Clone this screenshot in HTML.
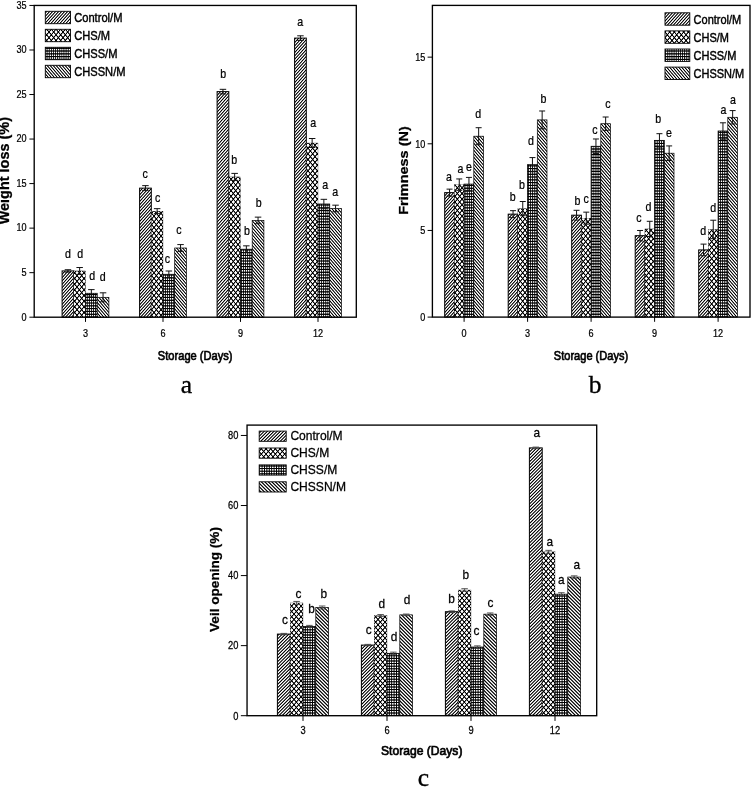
<!DOCTYPE html>
<html><head><meta charset="utf-8"><title>Figure</title>
<style>
html,body{margin:0;padding:0;background:#fff;}
body{width:751px;height:787px;overflow:hidden;font-family:"Liberation Sans",sans-serif;}
svg{display:block;will-change:transform;font-family:"Liberation Sans",sans-serif;text-anchor:middle;}
text{fill:#000;stroke:#000;stroke-width:0.25px;}
</style></head><body>
<svg width="751" height="787" viewBox="0 0 751 787">
<defs>
<pattern id="ctlab" width="3" height="10" patternUnits="userSpaceOnUse"><rect width="3" height="10" fill="#fff"/><path fill="#ccc" d="M0 0h1v1h-1zM2 9h1v1h-1z"/><path fill="#ddd" d="M1 0h1v1h-1zM1 9h1v1h-1z"/><path fill="#000" d="M2 0h1v1h-1zM0 9h1v1h-1z"/><path fill="#111" d="M1 1h1v1h-1zM0 2h1v1h-1zM2 7h1v1h-1zM1 8h1v1h-1z"/><path fill="#aaa" d="M2 1h1v1h-1zM0 8h1v1h-1z"/><path fill="#888" d="M1 2h1v1h-1zM1 7h1v1h-1z"/><path fill="#777" d="M0 3h1v1h-1zM2 6h1v1h-1z"/><path fill="#222" d="M2 3h1v1h-1zM0 6h1v1h-1z"/><path fill="#444" d="M1 4h1v1h-1zM1 5h1v1h-1z"/><path fill="#555" d="M2 4h1v1h-1zM0 5h1v1h-1z"/></pattern>
<pattern id="snab" width="3" height="7" patternUnits="userSpaceOnUse"><rect width="3" height="7" fill="#fff"/><path fill="#000" d="M0 0h1v1h-1zM2 6h1v1h-1z"/><path fill="#eee" d="M1 0h1v1h-1zM1 6h1v1h-1z"/><path fill="#ccc" d="M2 0h1v1h-1zM0 6h1v1h-1z"/><path fill="#999" d="M0 1h1v1h-1zM2 5h1v1h-1z"/><path fill="#111" d="M1 1h1v1h-1zM1 5h1v1h-1z"/><path fill="#777" d="M1 2h1v1h-1zM1 4h1v1h-1z"/><path fill="#333" d="M2 2h1v1h-1zM0 4h1v1h-1z"/><path fill="#444" d="M0 3h1v1h-1zM2 3h1v1h-1z"/></pattern>
<pattern id="chsab" width="14" height="17" patternUnits="userSpaceOnUse"><rect width="14" height="17" fill="#000"/><path fill="#111" d="M0 0h1v1h-1zM13 0h1v1h-1zM5 1h1v1h-1zM8 1h1v1h-1zM6 3h2v1h-2zM3 5h1v1h-1zM10 5h1v1h-1zM3 7h1v1h-1zM10 7h1v1h-1zM6 9h2v1h-2zM5 11h1v1h-1zM8 11h1v1h-1z"/><path fill="#fff" d="M1 0h2v1h-2zM6 0h2v1h-2zM11 0h2v1h-2zM2 1h1v1h-1zM6 1h2v1h-2zM11 1h1v1h-1zM4 2h1v1h-1zM9 2h1v1h-1zM0 3h1v1h-1zM4 3h2v1h-2zM8 3h2v1h-2zM13 3h1v1h-1zM0 4h1v1h-1zM4 4h1v1h-1zM9 4h1v1h-1zM13 4h1v1h-1zM2 5h1v1h-1zM11 5h1v1h-1zM1 6h2v1h-2zM6 6h2v1h-2zM11 6h2v1h-2zM2 7h1v1h-1zM11 7h1v1h-1zM0 8h1v1h-1zM4 8h1v1h-1zM9 8h1v1h-1zM13 8h1v1h-1zM0 9h1v1h-1zM4 9h2v1h-2zM8 9h2v1h-2zM13 9h1v1h-1zM4 10h1v1h-1zM9 10h1v1h-1zM2 11h1v1h-1zM6 11h2v1h-2zM11 11h1v1h-1zM1 12h2v1h-2zM6 12h2v1h-2zM11 12h2v1h-2zM2 13h1v1h-1zM11 13h1v1h-1zM0 14h1v1h-1zM4 14h1v1h-1zM9 14h1v1h-1zM13 14h1v1h-1zM0 15h1v1h-1zM4 15h1v1h-1zM9 15h1v1h-1zM13 15h1v1h-1zM2 16h1v1h-1zM11 16h1v1h-1z"/><path fill="#ccc" d="M3 0h1v1h-1zM10 0h1v1h-1zM1 1h1v1h-1zM12 1h1v1h-1zM0 2h1v1h-1zM13 2h1v1h-1zM3 12h1v1h-1zM10 12h1v1h-1zM4 13h1v1h-1zM9 13h1v1h-1zM4 16h1v1h-1zM9 16h1v1h-1z"/><path fill="#666" d="M5 0h1v1h-1zM8 0h1v1h-1zM3 1h1v1h-1zM10 1h1v1h-1zM4 7h1v1h-1zM9 7h1v1h-1zM5 12h1v1h-1zM8 12h1v1h-1zM0 16h1v1h-1zM13 16h1v1h-1z"/><path fill="#888" d="M2 2h1v1h-1zM11 2h1v1h-1z"/><path fill="#555" d="M5 2h1v1h-1zM8 2h1v1h-1zM4 5h1v1h-1zM9 5h1v1h-1z"/><path fill="#333" d="M6 2h2v1h-2zM2 4h2v1h-2zM10 4h2v1h-2zM2 8h1v1h-1zM11 8h1v1h-1zM1 14h1v1h-1zM12 14h1v1h-1zM1 15h1v1h-1zM12 15h1v1h-1z"/><path fill="#777" d="M1 3h1v1h-1zM12 3h1v1h-1zM1 5h1v1h-1zM12 5h1v1h-1zM5 6h1v1h-1zM8 6h1v1h-1zM1 7h1v1h-1zM12 7h1v1h-1zM1 9h1v1h-1zM12 9h1v1h-1zM3 11h1v1h-1zM10 11h1v1h-1zM0 13h1v1h-1zM13 13h1v1h-1z"/><path fill="#ddd" d="M3 3h1v1h-1zM10 3h1v1h-1zM6 7h2v1h-2zM3 9h1v1h-1zM10 9h1v1h-1zM1 11h1v1h-1zM12 11h1v1h-1z"/><path fill="#aaa" d="M5 4h1v1h-1zM8 4h1v1h-1zM5 8h1v1h-1zM8 8h1v1h-1zM3 14h1v1h-1zM10 14h1v1h-1z"/><path fill="#222" d="M0 5h1v1h-1zM13 5h1v1h-1zM0 7h1v1h-1zM13 7h1v1h-1zM1 13h1v1h-1zM12 13h1v1h-1zM1 16h1v1h-1zM12 16h1v1h-1z"/><path fill="#eee" d="M6 5h2v1h-2zM3 6h1v1h-1zM10 6h1v1h-1zM5 14h1v1h-1zM8 14h1v1h-1zM5 15h1v1h-1zM8 15h1v1h-1z"/><path fill="#444" d="M3 8h1v1h-1zM10 8h1v1h-1zM5 10h4v1h-4z"/><path fill="#bbb" d="M0 10h1v1h-1zM13 10h1v1h-1z"/><path fill="#999" d="M2 10h1v1h-1zM11 10h1v1h-1zM6 13h2v1h-2zM3 15h1v1h-1zM10 15h1v1h-1zM6 16h2v1h-2z"/></pattern>
<pattern id="chssab" width="19" height="14" patternUnits="userSpaceOnUse"><rect width="19" height="14" fill="#222"/><path fill="#000" d="M0 0h19v1h-19zM0 3h19v1h-19zM0 6h1v1h-1zM2 6h1v1h-1zM4 6h1v1h-1zM6 6h1v1h-1zM9 6h1v1h-1zM11 6h1v1h-1zM13 6h1v1h-1zM15 6h1v1h-1zM17 6h1v1h-1zM0 11h1v1h-1zM13 11h1v1h-1zM15 11h1v1h-1zM17 11h1v1h-1z"/><path fill="#bbb" d="M1 1h1v1h-1zM12 1h1v1h-1zM1 2h1v1h-1zM12 2h1v1h-1z"/><path fill="#444" d="M2 1h1v1h-1zM11 1h1v1h-1zM2 2h1v1h-1zM11 2h1v1h-1zM4 5h1v1h-1zM3 8h1v1h-1zM5 8h1v1h-1zM10 8h1v1h-1zM3 9h1v1h-1zM5 9h1v1h-1zM10 9h1v1h-1zM6 12h1v1h-1zM9 12h1v1h-1z"/><path fill="#999" d="M3 1h1v1h-1zM5 1h1v1h-1zM10 1h1v1h-1zM3 2h1v1h-1zM5 2h1v1h-1zM10 2h1v1h-1zM1 5h1v1h-1zM12 5h1v1h-1z"/><path fill="#666" d="M4 1h1v1h-1zM6 1h1v1h-1zM9 1h1v1h-1zM4 2h1v1h-1zM6 2h1v1h-1zM9 2h1v1h-1zM7 5h2v1h-2zM14 8h1v1h-1zM16 8h1v1h-1zM18 8h1v1h-1zM14 9h1v1h-1zM16 9h1v1h-1zM18 9h1v1h-1zM3 12h1v1h-1zM5 12h1v1h-1zM10 12h1v1h-1z"/><path fill="#777" d="M7 1h2v1h-2zM7 2h2v1h-2zM3 5h1v1h-1zM5 5h1v1h-1zM10 5h1v1h-1zM1 12h1v1h-1zM12 12h1v1h-1z"/><path fill="#ddd" d="M14 1h1v1h-1zM16 1h1v1h-1zM18 1h1v1h-1zM14 2h1v1h-1zM16 2h1v1h-1zM18 2h1v1h-1zM3 7h1v1h-1zM10 7h1v1h-1zM3 13h1v1h-1zM10 13h1v1h-1z"/><path fill="#333" d="M0 4h1v1h-1zM13 4h1v1h-1zM15 4h1v1h-1zM17 4h1v1h-1zM2 5h1v1h-1zM11 5h1v1h-1zM0 7h1v1h-1zM13 7h1v1h-1zM15 7h1v1h-1zM17 7h1v1h-1zM7 8h2v1h-2zM7 9h2v1h-2zM0 10h1v1h-1zM13 10h1v1h-1zM15 10h1v1h-1zM17 10h1v1h-1zM1 11h1v1h-1zM12 11h1v1h-1zM14 11h1v1h-1zM16 11h1v1h-1zM18 11h1v1h-1zM4 12h1v1h-1zM0 13h1v1h-1zM13 13h1v1h-1zM15 13h1v1h-1zM17 13h1v1h-1z"/><path fill="#fff" d="M1 4h1v1h-1zM12 4h1v1h-1zM14 4h1v1h-1zM16 4h1v1h-1zM18 4h1v1h-1zM1 7h1v1h-1zM12 7h1v1h-1zM14 7h1v1h-1zM16 7h1v1h-1zM18 7h1v1h-1zM1 10h1v1h-1zM12 10h1v1h-1zM14 10h1v1h-1zM16 10h1v1h-1zM18 10h1v1h-1zM1 13h1v1h-1zM12 13h1v1h-1zM14 13h1v1h-1zM16 13h1v1h-1zM18 13h1v1h-1z"/><path fill="#555" d="M2 4h1v1h-1zM11 4h1v1h-1zM6 5h1v1h-1zM9 5h1v1h-1zM2 7h1v1h-1zM11 7h1v1h-1zM1 8h1v1h-1zM12 8h1v1h-1zM1 9h1v1h-1zM12 9h1v1h-1zM2 10h1v1h-1zM11 10h1v1h-1zM7 12h2v1h-2zM2 13h1v1h-1zM11 13h1v1h-1z"/><path fill="#ccc" d="M3 4h1v1h-1zM5 4h1v1h-1zM10 4h1v1h-1zM5 7h1v1h-1zM3 10h1v1h-1zM5 10h1v1h-1zM10 10h1v1h-1zM5 13h1v1h-1z"/><path fill="#888" d="M4 4h1v1h-1zM6 4h1v1h-1zM9 4h1v1h-1zM4 7h1v1h-1zM6 7h1v1h-1zM9 7h1v1h-1zM4 10h1v1h-1zM6 10h1v1h-1zM9 10h1v1h-1zM14 12h1v1h-1zM16 12h1v1h-1zM18 12h1v1h-1zM4 13h1v1h-1zM6 13h1v1h-1zM9 13h1v1h-1z"/><path fill="#aaa" d="M7 4h2v1h-2zM14 5h1v1h-1zM16 5h1v1h-1zM18 5h1v1h-1zM7 7h2v1h-2zM7 10h2v1h-2zM7 13h2v1h-2z"/><path fill="#111" d="M1 6h1v1h-1zM3 6h1v1h-1zM5 6h1v1h-1zM7 6h2v1h-2zM10 6h1v1h-1zM12 6h1v1h-1zM14 6h1v1h-1zM16 6h1v1h-1zM18 6h1v1h-1zM0 8h1v1h-1zM13 8h1v1h-1zM15 8h1v1h-1zM17 8h1v1h-1zM0 9h1v1h-1zM13 9h1v1h-1zM15 9h1v1h-1zM17 9h1v1h-1zM2 11h1v1h-1zM4 11h1v1h-1zM6 11h1v1h-1zM9 11h1v1h-1zM11 11h1v1h-1zM0 12h1v1h-1zM13 12h1v1h-1zM15 12h1v1h-1zM17 12h1v1h-1z"/></pattern>
<pattern id="ctlc" width="13" height="13" patternUnits="userSpaceOnUse"><rect width="13" height="13" fill="#fff"/><path fill="#bbb" d="M0 0h1v1h-1zM11 0h1v1h-1zM10 1h1v1h-1zM12 1h1v1h-1zM9 2h1v1h-1zM11 2h1v1h-1zM8 3h1v1h-1zM10 3h1v1h-1zM7 4h1v1h-1zM9 4h1v1h-1zM6 5h1v1h-1zM8 5h1v1h-1zM5 6h1v1h-1zM7 6h1v1h-1zM4 7h1v1h-1zM6 7h1v1h-1zM3 8h1v1h-1zM5 8h1v1h-1zM2 9h1v1h-1zM4 9h1v1h-1zM1 10h1v1h-1zM3 10h1v1h-1zM0 11h1v1h-1zM2 11h1v1h-1zM1 12h1v1h-1zM12 12h1v1h-1z"/><path fill="#111" d="M2 0h1v1h-1zM9 0h1v1h-1zM1 1h1v1h-1zM8 1h1v1h-1zM0 2h1v1h-1zM7 2h1v1h-1zM6 3h1v1h-1zM12 3h1v1h-1zM5 4h1v1h-1zM11 4h1v1h-1zM4 5h1v1h-1zM10 5h1v1h-1zM3 6h1v1h-1zM9 6h1v1h-1zM2 7h1v1h-1zM8 7h1v1h-1zM1 8h1v1h-1zM7 8h1v1h-1zM0 9h1v1h-1zM6 9h1v1h-1zM5 10h1v1h-1zM12 10h1v1h-1zM4 11h1v1h-1zM11 11h1v1h-1zM3 12h1v1h-1zM10 12h1v1h-1z"/><path fill="#777" d="M3 0h1v1h-1zM8 0h1v1h-1zM2 1h1v1h-1zM7 1h1v1h-1zM1 2h1v1h-1zM6 2h1v1h-1zM0 3h1v1h-1zM5 3h1v1h-1zM4 4h1v1h-1zM12 4h1v1h-1zM3 5h1v1h-1zM11 5h1v1h-1zM2 6h1v1h-1zM10 6h1v1h-1zM1 7h1v1h-1zM9 7h1v1h-1zM0 8h1v1h-1zM8 8h1v1h-1zM7 9h1v1h-1zM12 9h1v1h-1zM6 10h1v1h-1zM11 10h1v1h-1zM5 11h1v1h-1zM10 11h1v1h-1zM4 12h1v1h-1zM9 12h1v1h-1z"/><path fill="#444" d="M5 0h2v1h-2zM4 1h2v1h-2zM3 2h2v1h-2zM2 3h2v1h-2zM1 4h2v1h-2zM0 5h2v1h-2zM0 6h1v1h-1zM12 6h1v1h-1zM11 7h2v1h-2zM10 8h2v1h-2zM9 9h2v1h-2zM8 10h2v1h-2zM7 11h2v1h-2zM6 12h2v1h-2z"/><path fill="#000" d="M12 0h1v1h-1zM11 1h1v1h-1zM10 2h1v1h-1zM9 3h1v1h-1zM8 4h1v1h-1zM7 5h1v1h-1zM6 6h1v1h-1zM5 7h1v1h-1zM4 8h1v1h-1zM3 9h1v1h-1zM2 10h1v1h-1zM1 11h1v1h-1zM0 12h1v1h-1z"/></pattern>
<pattern id="snc" width="7" height="7" patternUnits="userSpaceOnUse"><rect width="7" height="7" fill="#aaa"/><path fill="#000" d="M0 0h1v1h-1zM1 1h1v1h-1zM2 2h1v1h-1zM3 3h1v1h-1zM4 4h1v1h-1zM5 5h1v1h-1zM6 6h1v1h-1z"/><path fill="#fff" d="M2 0h1v1h-1zM5 0h1v1h-1zM3 1h1v1h-1zM6 1h1v1h-1zM0 2h1v1h-1zM4 2h1v1h-1zM1 3h1v1h-1zM5 3h1v1h-1zM2 4h1v1h-1zM6 4h1v1h-1zM0 5h1v1h-1zM3 5h1v1h-1zM1 6h1v1h-1zM4 6h1v1h-1z"/><path fill="#333" d="M3 0h2v1h-2zM4 1h2v1h-2zM5 2h2v1h-2zM0 3h1v1h-1zM6 3h1v1h-1zM0 4h2v1h-2zM1 5h2v1h-2zM2 6h2v1h-2z"/></pattern>
<pattern id="chsc" width="14" height="16" patternUnits="userSpaceOnUse"><rect width="14" height="16" fill="#000"/><path fill="#fff" d="M1 0h2v1h-2zM6 0h2v1h-2zM11 0h2v1h-2zM2 1h1v1h-1zM6 1h2v1h-2zM11 1h1v1h-1zM4 2h1v1h-1zM9 2h1v1h-1zM0 3h1v1h-1zM4 3h2v1h-2zM8 3h2v1h-2zM13 3h1v1h-1zM4 4h1v1h-1zM9 4h1v1h-1zM2 5h1v1h-1zM6 5h2v1h-2zM11 5h1v1h-1zM1 6h2v1h-2zM6 6h2v1h-2zM11 6h2v1h-2zM0 8h1v1h-1zM4 8h2v1h-2zM8 8h2v1h-2zM13 8h1v1h-1zM0 9h1v1h-1zM4 9h1v1h-1zM9 9h1v1h-1zM13 9h1v1h-1zM2 10h1v1h-1zM11 10h1v1h-1zM1 11h2v1h-2zM6 11h2v1h-2zM11 11h2v1h-2zM2 12h1v1h-1zM11 12h1v1h-1zM0 13h1v1h-1zM4 13h1v1h-1zM9 13h1v1h-1zM13 13h1v1h-1zM0 14h1v1h-1zM4 14h2v1h-2zM8 14h2v1h-2zM13 14h1v1h-1z"/><path fill="#ddd" d="M3 0h1v1h-1zM10 0h1v1h-1zM0 2h1v1h-1zM13 2h1v1h-1zM3 3h1v1h-1zM10 3h1v1h-1zM1 5h1v1h-1zM12 5h1v1h-1zM3 8h1v1h-1zM10 8h1v1h-1zM6 10h2v1h-2zM3 11h1v1h-1zM10 11h1v1h-1zM5 13h1v1h-1zM8 13h1v1h-1z"/><path fill="#666" d="M5 0h1v1h-1zM8 0h1v1h-1zM1 8h1v1h-1zM12 8h1v1h-1z"/><path fill="#bbb" d="M1 1h1v1h-1zM12 1h1v1h-1zM3 6h1v1h-1zM10 6h1v1h-1zM5 9h1v1h-1zM8 9h1v1h-1zM3 14h1v1h-1zM10 14h1v1h-1z"/><path fill="#555" d="M3 1h1v1h-1zM10 1h1v1h-1zM2 2h1v1h-1zM11 2h1v1h-1zM5 4h1v1h-1zM8 4h1v1h-1zM5 6h1v1h-1zM8 6h1v1h-1zM3 9h1v1h-1zM10 9h1v1h-1zM4 10h1v1h-1zM9 10h1v1h-1zM1 12h1v1h-1zM12 12h1v1h-1zM1 14h1v1h-1zM12 14h1v1h-1z"/><path fill="#222" d="M4 1h1v1h-1zM9 1h1v1h-1zM6 2h2v1h-2zM5 7h1v1h-1zM8 7h1v1h-1zM2 9h1v1h-1zM11 9h1v1h-1zM0 10h1v1h-1zM13 10h1v1h-1zM1 15h1v1h-1zM12 15h1v1h-1z"/><path fill="#111" d="M3 2h1v1h-1zM10 2h1v1h-1zM6 3h2v1h-2zM5 5h1v1h-1zM8 5h1v1h-1zM3 10h1v1h-1zM10 10h1v1h-1zM0 11h1v1h-1zM13 11h1v1h-1zM1 13h1v1h-1zM12 13h1v1h-1z"/><path fill="#777" d="M5 2h1v1h-1zM8 2h1v1h-1zM1 3h1v1h-1zM12 3h1v1h-1zM3 5h1v1h-1zM10 5h1v1h-1zM6 7h2v1h-2zM1 10h1v1h-1zM12 10h1v1h-1zM5 11h1v1h-1zM8 11h1v1h-1zM3 13h1v1h-1zM10 13h1v1h-1zM0 15h1v1h-1zM13 15h1v1h-1z"/><path fill="#ccc" d="M0 4h1v1h-1zM13 4h1v1h-1zM2 7h1v1h-1zM11 7h1v1h-1zM6 12h2v1h-2zM4 15h1v1h-1zM9 15h1v1h-1z"/><path fill="#888" d="M2 4h1v1h-1zM11 4h1v1h-1zM4 12h1v1h-1zM9 12h1v1h-1z"/><path fill="#333" d="M6 4h2v1h-2zM0 12h1v1h-1zM13 12h1v1h-1z"/><path fill="#999" d="M0 7h1v1h-1zM13 7h1v1h-1zM6 15h2v1h-2z"/><path fill="#eee" d="M4 7h1v1h-1zM9 7h1v1h-1zM2 15h1v1h-1zM11 15h1v1h-1z"/></pattern>
<pattern id="chssc" width="12" height="13" patternUnits="userSpaceOnUse"><rect width="12" height="13" fill="#333"/><path fill="#000" d="M0 0h12v1h-12zM0 1h1v1h-1zM0 2h1v1h-1zM0 3h1v1h-1zM5 3h1v1h-1zM7 3h1v1h-1zM0 4h1v1h-1zM0 5h1v1h-1zM5 5h1v1h-1zM7 5h1v1h-1zM0 6h1v1h-1zM0 7h1v1h-1zM0 8h12v1h-12zM0 9h1v1h-1zM0 10h1v1h-1zM0 11h1v1h-1zM0 12h1v1h-1z"/><path fill="#fff" d="M1 1h1v1h-1zM6 1h1v1h-1zM11 1h1v1h-1zM1 4h1v1h-1zM6 4h1v1h-1zM8 4h1v1h-1zM11 4h1v1h-1zM1 9h1v1h-1zM6 9h1v1h-1zM8 9h1v1h-1zM11 9h1v1h-1zM1 12h1v1h-1zM6 12h1v1h-1zM8 12h1v1h-1zM11 12h1v1h-1z"/><path fill="#555" d="M2 1h1v1h-1zM2 4h1v1h-1zM2 9h1v1h-1zM8 10h1v1h-1zM8 11h1v1h-1zM2 12h1v1h-1z"/><path fill="#999" d="M3 1h1v1h-1zM9 1h1v1h-1zM8 2h1v1h-1zM8 6h1v1h-1zM4 7h1v1h-1z"/><path fill="#bbb" d="M4 1h1v1h-1zM8 7h1v1h-1z"/><path fill="#ddd" d="M8 1h1v1h-1zM4 4h1v1h-1zM1 7h1v1h-1zM6 7h1v1h-1zM11 7h1v1h-1zM4 9h1v1h-1zM4 12h1v1h-1z"/><path fill="#777" d="M10 1h1v1h-1zM4 2h1v1h-1zM4 6h1v1h-1zM9 7h1v1h-1z"/><path fill="#aaa" d="M1 2h1v1h-1zM6 2h1v1h-1zM11 2h1v1h-1zM3 4h1v1h-1zM9 4h1v1h-1zM1 6h1v1h-1zM6 6h1v1h-1zM11 6h1v1h-1zM3 9h1v1h-1zM9 9h1v1h-1zM3 12h1v1h-1zM9 12h1v1h-1z"/><path fill="#666" d="M3 2h1v1h-1zM9 2h1v1h-1zM3 6h1v1h-1zM9 6h1v1h-1zM10 7h1v1h-1zM1 10h1v1h-1zM6 10h1v1h-1zM11 10h1v1h-1zM1 11h1v1h-1zM6 11h1v1h-1zM11 11h1v1h-1z"/><path fill="#222" d="M5 2h1v1h-1zM7 2h1v1h-1zM3 3h2v1h-2zM9 3h1v1h-1zM3 5h2v1h-2zM9 5h1v1h-1zM5 6h1v1h-1zM7 6h1v1h-1zM5 7h1v1h-1zM7 7h1v1h-1zM2 10h1v1h-1zM10 10h1v1h-1zM2 11h1v1h-1zM10 11h1v1h-1z"/><path fill="#444" d="M10 2h1v1h-1zM10 6h1v1h-1zM2 7h1v1h-1zM4 10h1v1h-1zM4 11h1v1h-1z"/><path fill="#111" d="M2 3h1v1h-1zM10 3h1v1h-1zM2 5h1v1h-1zM10 5h1v1h-1zM5 10h1v1h-1zM7 10h1v1h-1zM5 11h1v1h-1zM7 11h1v1h-1z"/><path fill="#888" d="M10 4h1v1h-1zM3 7h1v1h-1zM10 9h1v1h-1zM10 12h1v1h-1z"/></pattern>
</defs>
<rect width="751" height="787" fill="#fff"/>
<g stroke="#000"><rect x="62.1" y="270.92" width="11.7" height="46.38" fill="url(#ctlab)" stroke-width="1.0"/><rect x="73.8" y="270.92" width="11.7" height="46.38" fill="url(#chsab)" stroke-width="0.25"/><rect x="85.5" y="293.31" width="11.7" height="23.99" fill="url(#chssab)" stroke-width="0.8"/><rect x="97.2" y="297.32" width="11.7" height="19.98" fill="url(#snab)" stroke-width="0.7"/><rect x="139.6" y="188.14" width="11.7" height="129.16" fill="url(#ctlab)" stroke-width="1.0"/><rect x="151.3" y="211.15" width="11.7" height="106.15" fill="url(#chsab)" stroke-width="0.25"/><rect x="163" y="274.31" width="11.7" height="42.99" fill="url(#chssab)" stroke-width="0.8"/><rect x="174.7" y="247.99" width="11.7" height="69.31" fill="url(#snab)" stroke-width="0.7"/><rect x="217.1" y="91.62" width="11.7" height="225.68" fill="url(#ctlab)" stroke-width="1.0"/><rect x="228.8" y="176.9" width="11.7" height="140.4" fill="url(#chsab)" stroke-width="0.25"/><rect x="240.5" y="249.24" width="11.7" height="68.06" fill="url(#chssab)" stroke-width="0.8"/><rect x="252.2" y="220.43" width="11.7" height="96.87" fill="url(#snab)" stroke-width="0.7"/><rect x="294.6" y="38.1" width="11.7" height="279.2" fill="url(#ctlab)" stroke-width="1.0"/><rect x="306.3" y="143" width="11.7" height="174.3" fill="url(#chsab)" stroke-width="0.25"/><rect x="318" y="204.02" width="11.7" height="113.28" fill="url(#chssab)" stroke-width="0.8"/><rect x="329.7" y="208.48" width="11.7" height="108.82" fill="url(#snab)" stroke-width="0.7"/></g>
<path d="M67.95 269.72V272.12M64.7 269.72H71.2M64.7 272.12H71.2M79.65 267.52V274.32M76.4 267.52H82.9M76.4 274.32H82.9M91.35 289.61V297.01M88.1 289.61H94.6M88.1 297.01H94.6M103.05 292.82V301.82M99.8 292.82H106.3M99.8 301.82H106.3M145.45 185.64V190.64M142.2 185.64H148.7M142.2 190.64H148.7M157.15 208.65V213.65M153.9 208.65H160.4M153.9 213.65H160.4M168.85 271.01V277.61M165.6 271.01H172.1M165.6 277.61H172.1M180.55 244.59V251.39M177.3 244.59H183.8M177.3 251.39H183.8M222.95 89.32V93.92M219.7 89.32H226.2M219.7 93.92H226.2M234.65 173.4V180.4M231.4 173.4H237.9M231.4 180.4H237.9M246.35 245.84V252.64M243.1 245.84H249.6M243.1 252.64H249.6M258.05 217.13V223.73M254.8 217.13H261.3M254.8 223.73H261.3M300.45 35.8V40.4M297.2 35.8H303.7M297.2 40.4H303.7M312.15 138.5V147.5M308.9 138.5H315.4M308.9 147.5H315.4M323.85 199.32V208.72M320.6 199.32H327.1M320.6 208.72H327.1M335.55 205.18V211.78M332.3 205.18H338.8M332.3 211.78H338.8" stroke="#111" stroke-width="1.0" fill="none"/>
<text transform="translate(68,258.3) scale(0.85,1)" font-size="12.5" >d</text>
<text transform="translate(80.3,258.3) scale(0.85,1)" font-size="12.5" >d</text>
<text transform="translate(92.3,279.7) scale(0.85,1)" font-size="12.5" >d</text>
<text transform="translate(102.6,280.9) scale(0.85,1)" font-size="12.5" >d</text>
<text transform="translate(145.1,177.7) scale(0.85,1)" font-size="12.5" >c</text>
<text transform="translate(157.7,202.2) scale(0.85,1)" font-size="12.5" >c</text>
<text transform="translate(167.5,262.7) scale(0.85,1)" font-size="12.5" >c</text>
<text transform="translate(179,233.7) scale(0.85,1)" font-size="12.5" >c</text>
<text transform="translate(223.1,77.9) scale(0.85,1)" font-size="12.5" >b</text>
<text transform="translate(234.3,163.5) scale(0.85,1)" font-size="12.5" >b</text>
<text transform="translate(246.9,234.6) scale(0.85,1)" font-size="12.5" >b</text>
<text transform="translate(258.7,207.4) scale(0.85,1)" font-size="12.5" >b</text>
<text transform="translate(300.3,25.7) scale(0.85,1)" font-size="12.5" >a</text>
<text transform="translate(313.2,126.7) scale(0.85,1)" font-size="12.5" >a</text>
<text transform="translate(325.3,189.4) scale(0.85,1)" font-size="12.5" >a</text>
<text transform="translate(335.3,196) scale(0.85,1)" font-size="12.5" >a</text>
<rect x="45.3" y="11.3" width="25.2" height="12.4" fill="url(#ctlab)" stroke="#000" stroke-width="0.9"/>
<text transform="translate(74.2,21.9) scale(0.825,1)" font-size="13.5" text-anchor="start" style="stroke-width:0.45px">Control/M</text>
<rect x="45.3" y="29.3" width="25.2" height="12.4" fill="url(#chsab)" stroke="#000" stroke-width="0.9"/>
<text transform="translate(74.2,39.9) scale(0.825,1)" font-size="13.5" text-anchor="start" style="stroke-width:0.45px">CHS/M</text>
<rect x="45.3" y="47.3" width="25.2" height="12.4" fill="url(#chssab)" stroke="#000" stroke-width="0.9"/>
<text transform="translate(74.2,57.9) scale(0.825,1)" font-size="13.5" text-anchor="start" style="stroke-width:0.45px">CHSS/M</text>
<rect x="45.3" y="65.3" width="25.2" height="12.4" fill="url(#snab)" stroke="#000" stroke-width="0.9"/>
<text transform="translate(74.2,75.9) scale(0.825,1)" font-size="13.5" text-anchor="start" style="stroke-width:0.45px">CHSSN/M</text>
<rect x="34.2" y="5.45" width="322.1" height="311.75" fill="none" stroke="#000" stroke-width="1.35"/>
<text transform="translate(26.5,320.5) scale(0.85,1)" font-size="10.7" text-anchor="end" >0</text>
<text transform="translate(26.5,275.96) scale(0.85,1)" font-size="10.7" text-anchor="end" >5</text>
<text transform="translate(26.5,231.43) scale(0.85,1)" font-size="10.7" text-anchor="end" >10</text>
<text transform="translate(26.5,186.9) scale(0.85,1)" font-size="10.7" text-anchor="end" >15</text>
<text transform="translate(26.5,142.36) scale(0.85,1)" font-size="10.7" text-anchor="end" >20</text>
<text transform="translate(26.5,97.82) scale(0.85,1)" font-size="10.7" text-anchor="end" >25</text>
<text transform="translate(26.5,53.29) scale(0.85,1)" font-size="10.7" text-anchor="end" >30</text>
<text transform="translate(26.5,8.75) scale(0.85,1)" font-size="10.7" text-anchor="end" >35</text>
<text transform="translate(85.5,336.8) scale(0.85,1)" font-size="10.7" >3</text>
<text transform="translate(163,336.8) scale(0.85,1)" font-size="10.7" >6</text>
<text transform="translate(240.5,336.8) scale(0.85,1)" font-size="10.7" >9</text>
<text transform="translate(318,336.8) scale(0.85,1)" font-size="10.7" >12</text>
<path d="M29.4 317.2H34.2M29.4 272.66H34.2M29.4 228.13H34.2M29.4 183.59H34.2M29.4 139.06H34.2M29.4 94.52H34.2M29.4 49.99H34.2M29.4 5.45H34.2M85.5 317.2V321.9M163 317.2V321.9M240.5 317.2V321.9M318 317.2V321.9" stroke="#000" stroke-width="1" fill="none"/>
<text transform="translate(195.2,360) scale(0.824,1)" font-size="13.5" style="stroke-width:0.7px">Storage (Days)</text>
<text transform="translate(8.8,170.7) rotate(-90) scale(1.055,1.13)" font-size="13.7" font-weight="bold">Weight loss (%)</text>
<text transform="translate(186.5,392.7) scale(1,1)" font-family="Liberation Serif" font-size="25.5" style="stroke-width:0.35px">a</text>
<g stroke="#000"><rect x="444.7" y="192.63" width="9.7" height="124.47" fill="url(#ctlab)" stroke-width="1.0"/><rect x="454.4" y="184.64" width="9.7" height="132.46" fill="url(#chsab)" stroke-width="0.25"/><rect x="464.1" y="184.12" width="9.7" height="132.98" fill="url(#chssab)" stroke-width="0.8"/><rect x="473.8" y="136.21" width="9.7" height="180.89" fill="url(#snab)" stroke-width="0.7"/><rect x="508.2" y="214.16" width="9.7" height="102.94" fill="url(#ctlab)" stroke-width="1.0"/><rect x="517.9" y="208.6" width="9.7" height="108.5" fill="url(#chsab)" stroke-width="0.25"/><rect x="527.6" y="164.68" width="9.7" height="152.42" fill="url(#chssab)" stroke-width="0.8"/><rect x="537.3" y="119.89" width="9.7" height="197.21" fill="url(#snab)" stroke-width="0.7"/><rect x="571.7" y="215.2" width="9.7" height="101.9" fill="url(#ctlab)" stroke-width="1.0"/><rect x="581.4" y="218.15" width="9.7" height="98.95" fill="url(#chsab)" stroke-width="0.25"/><rect x="591.1" y="146.28" width="9.7" height="170.82" fill="url(#chssab)" stroke-width="0.8"/><rect x="600.8" y="123.71" width="9.7" height="193.39" fill="url(#snab)" stroke-width="0.7"/><rect x="635.2" y="235.68" width="9.7" height="81.42" fill="url(#ctlab)" stroke-width="1.0"/><rect x="644.9" y="228.91" width="9.7" height="88.19" fill="url(#chsab)" stroke-width="0.25"/><rect x="654.6" y="140.38" width="9.7" height="176.72" fill="url(#chssab)" stroke-width="0.8"/><rect x="664.3" y="153.22" width="9.7" height="163.88" fill="url(#snab)" stroke-width="0.7"/><rect x="698.7" y="249.92" width="9.7" height="67.18" fill="url(#ctlab)" stroke-width="1.0"/><rect x="708.4" y="229.43" width="9.7" height="87.67" fill="url(#chsab)" stroke-width="0.25"/><rect x="718.1" y="131" width="9.7" height="186.1" fill="url(#chssab)" stroke-width="0.8"/><rect x="727.8" y="117.29" width="9.7" height="199.81" fill="url(#snab)" stroke-width="0.7"/></g>
<path d="M449.55 189.13V196.13M446.55 189.13H452.55M446.55 196.13H452.55M459.25 178.94V190.34M456.25 178.94H462.25M456.25 190.34H462.25M468.95 177.42V190.82M465.95 177.42H471.95M465.95 190.82H471.95M478.65 127.71V144.71M475.65 127.71H481.65M475.65 144.71H481.65M513.05 210.66V217.66M510.05 210.66H516.05M510.05 217.66H516.05M522.75 201.5V215.7M519.75 201.5H525.75M519.75 215.7H525.75M532.45 157.58V171.78M529.45 157.58H535.45M529.45 171.78H535.45M542.15 110.99V128.79M539.15 110.99H545.15M539.15 128.79H545.15M576.55 210.3V220.1M573.55 210.3H579.55M573.55 220.1H579.55M586.25 212.15V224.15M583.25 212.15H589.25M583.25 224.15H589.25M595.95 138.98V153.58M592.95 138.98H598.95M592.95 153.58H598.95M605.65 117.01V130.41M602.65 117.01H608.65M602.65 130.41H608.65M640.05 230.48V240.88M637.05 230.48H643.05M637.05 240.88H643.05M649.75 221.31V236.51M646.75 221.31H652.75M646.75 236.51H652.75M659.45 133.68V147.08M656.45 133.68H662.45M656.45 147.08H662.45M669.15 145.92V160.52M666.15 145.92H672.15M666.15 160.52H672.15M703.55 244.12V255.72M700.55 244.12H706.55M700.55 255.72H706.55M713.25 220.23V238.63M710.25 220.23H716.25M710.25 238.63H716.25M722.95 122.8V139.2M719.95 122.8H725.95M719.95 139.2H725.95M732.65 110.59V123.99M729.65 110.59H735.65M729.65 123.99H735.65" stroke="#111" stroke-width="1.0" fill="none"/>
<text transform="translate(449,181.1) scale(0.85,1)" font-size="12.5" >a</text>
<text transform="translate(460.4,173) scale(0.85,1)" font-size="12.5" >a</text>
<text transform="translate(469,170.7) scale(0.85,1)" font-size="12.5" >e</text>
<text transform="translate(478.1,117.9) scale(0.85,1)" font-size="12.5" >d</text>
<text transform="translate(512.7,200.8) scale(0.85,1)" font-size="12.5" >b</text>
<text transform="translate(522,188.6) scale(0.85,1)" font-size="12.5" >b</text>
<text transform="translate(531,144.9) scale(0.85,1)" font-size="12.5" >d</text>
<text transform="translate(543.4,102.6) scale(0.85,1)" font-size="12.5" >b</text>
<text transform="translate(577.4,204.5) scale(0.85,1)" font-size="12.5" >b</text>
<text transform="translate(586.2,203) scale(0.85,1)" font-size="12.5" >c</text>
<text transform="translate(595,134) scale(0.85,1)" font-size="12.5" >c</text>
<text transform="translate(607.9,108.1) scale(0.85,1)" font-size="12.5" >c</text>
<text transform="translate(639,221.9) scale(0.85,1)" font-size="12.5" >c</text>
<text transform="translate(648.5,210.6) scale(0.85,1)" font-size="12.5" >d</text>
<text transform="translate(658.2,122.7) scale(0.85,1)" font-size="12.5" >b</text>
<text transform="translate(668.9,137) scale(0.85,1)" font-size="12.5" >e</text>
<text transform="translate(703.1,235) scale(0.85,1)" font-size="12.5" >d</text>
<text transform="translate(713.2,211.8) scale(0.85,1)" font-size="12.5" >d</text>
<text transform="translate(723.5,113.6) scale(0.85,1)" font-size="12.5" >a</text>
<text transform="translate(733,104.4) scale(0.85,1)" font-size="12.5" >a</text>
<rect x="665" y="12.8" width="24.8" height="12.4" fill="url(#ctlab)" stroke="#000" stroke-width="0.9"/>
<text transform="translate(693.6,24) scale(0.815,1)" font-size="13.5" text-anchor="start" style="stroke-width:0.45px">Control/M</text>
<rect x="665" y="30.9" width="24.8" height="12.4" fill="url(#chsab)" stroke="#000" stroke-width="0.9"/>
<text transform="translate(693.6,42.1) scale(0.815,1)" font-size="13.5" text-anchor="start" style="stroke-width:0.45px">CHS/M</text>
<rect x="665" y="49" width="24.8" height="12.4" fill="url(#chssab)" stroke="#000" stroke-width="0.9"/>
<text transform="translate(693.6,60.2) scale(0.815,1)" font-size="13.5" text-anchor="start" style="stroke-width:0.45px">CHSS/M</text>
<rect x="665" y="67.1" width="24.8" height="12.4" fill="url(#snab)" stroke="#000" stroke-width="0.9"/>
<text transform="translate(693.6,78.3) scale(0.815,1)" font-size="13.5" text-anchor="start" style="stroke-width:0.45px">CHSSN/M</text>
<rect x="432.4" y="5.4" width="317.6" height="311.7" fill="none" stroke="#000" stroke-width="1.35"/>
<text transform="translate(425.4,320.9) scale(0.85,1)" font-size="10.7" text-anchor="end" >0</text>
<text transform="translate(425.4,234.25) scale(0.85,1)" font-size="10.7" text-anchor="end" >5</text>
<text transform="translate(425.4,147.6) scale(0.85,1)" font-size="10.7" text-anchor="end" >10</text>
<text transform="translate(425.4,60.95) scale(0.85,1)" font-size="10.7" text-anchor="end" >15</text>
<text transform="translate(464.1,336.8) scale(0.85,1)" font-size="10.7" >0</text>
<text transform="translate(527.6,336.8) scale(0.85,1)" font-size="10.7" >3</text>
<text transform="translate(591.1,336.8) scale(0.85,1)" font-size="10.7" >6</text>
<text transform="translate(654.6,336.8) scale(0.85,1)" font-size="10.7" >9</text>
<text transform="translate(718.1,336.8) scale(0.85,1)" font-size="10.7" >12</text>
<path d="M427.6 317.1H432.4M427.6 230.45H432.4M427.6 143.8H432.4M427.6 57.15H432.4M464.1 317.1V321.8M527.6 317.1V321.8M591.1 317.1V321.8M654.6 317.1V321.8M718.1 317.1V321.8" stroke="#000" stroke-width="1" fill="none"/>
<text transform="translate(591,359.5) scale(0.82,1)" font-size="13.5" style="stroke-width:0.7px">Storage (Days)</text>
<text transform="translate(407.6,170.5) rotate(-90) scale(1.097,1.0)" font-size="13.2" font-weight="bold">Frimness (N)</text>
<text transform="translate(595,392.5) scale(1,1)" font-family="Liberation Serif" font-size="25.5" style="stroke-width:0.35px">b</text>
<g stroke="#000"><rect x="277.4" y="634.1" width="12.8" height="81.2" fill="url(#ctlc)" stroke-width="1.0"/><rect x="290.2" y="602.95" width="12.8" height="112.35" fill="url(#chsc)" stroke-width="0.25"/><rect x="303" y="626.4" width="12.8" height="88.9" fill="url(#chssc)" stroke-width="0.8"/><rect x="315.8" y="607.5" width="12.8" height="107.8" fill="url(#snc)" stroke-width="0.7"/><rect x="361.4" y="645.09" width="12.8" height="70.21" fill="url(#ctlc)" stroke-width="1.0"/><rect x="374.2" y="615.55" width="12.8" height="99.75" fill="url(#chsc)" stroke-width="0.25"/><rect x="387" y="653.35" width="12.8" height="61.95" fill="url(#chssc)" stroke-width="0.8"/><rect x="399.8" y="614.85" width="12.8" height="100.45" fill="url(#snc)" stroke-width="0.7"/><rect x="445.4" y="611.7" width="12.8" height="103.6" fill="url(#ctlc)" stroke-width="1.0"/><rect x="458.2" y="590" width="12.8" height="125.3" fill="url(#chsc)" stroke-width="0.25"/><rect x="471" y="647.05" width="12.8" height="68.25" fill="url(#chssc)" stroke-width="0.8"/><rect x="483.8" y="614.15" width="12.8" height="101.15" fill="url(#snc)" stroke-width="0.7"/><rect x="529.4" y="447.9" width="12.8" height="267.4" fill="url(#ctlc)" stroke-width="1.0"/><rect x="542.2" y="551.85" width="12.8" height="163.45" fill="url(#chsc)" stroke-width="0.25"/><rect x="555" y="594.2" width="12.8" height="121.1" fill="url(#chssc)" stroke-width="0.8"/><rect x="567.8" y="577.05" width="12.8" height="138.25" fill="url(#snc)" stroke-width="0.7"/></g>
<path d="M283.8 633.4V634.8M280.55 633.4H287.05M280.55 634.8H287.05M296.6 601.45V604.45M293.35 601.45H299.85M293.35 604.45H299.85M309.4 625.4V627.4M306.15 625.4H312.65M306.15 627.4H312.65M322.2 606V609M318.95 606H325.45M318.95 609H325.45M367.8 644.39V645.79M364.55 644.39H371.05M364.55 645.79H371.05M380.6 614.55V616.55M377.35 614.55H383.85M377.35 616.55H383.85M393.4 652.15V654.55M390.15 652.15H396.65M390.15 654.55H396.65M406.2 614.05V615.65M402.95 614.05H409.45M402.95 615.65H409.45M451.8 610.9V612.5M448.55 610.9H455.05M448.55 612.5H455.05M464.6 588.7V591.3M461.35 588.7H467.85M461.35 591.3H467.85M477.4 645.85V648.25M474.15 645.85H480.65M474.15 648.25H480.65M490.2 612.95V615.35M486.95 612.95H493.45M486.95 615.35H493.45M535.8 447.1V448.7M532.55 447.1H539.05M532.55 448.7H539.05M548.6 550.35V553.35M545.35 550.35H551.85M545.35 553.35H551.85M561.4 592.7V595.7M558.15 592.7H564.65M558.15 595.7H564.65M574.2 575.85V578.25M570.95 575.85H577.45M570.95 578.25H577.45" stroke="#444" stroke-width="0.9" fill="none"/>
<text transform="translate(284.9,623.5) scale(0.95,1)" font-size="12.5" >c</text>
<text transform="translate(298.5,597.7) scale(0.95,1)" font-size="12.5" >c</text>
<text transform="translate(311.6,612.8) scale(0.95,1)" font-size="12.5" >b</text>
<text transform="translate(323.8,598.1) scale(0.95,1)" font-size="12.5" >b</text>
<text transform="translate(368.6,634.3) scale(0.95,1)" font-size="12.5" >c</text>
<text transform="translate(381.8,607.8) scale(0.95,1)" font-size="12.5" >d</text>
<text transform="translate(394,640.7) scale(0.95,1)" font-size="12.5" >d</text>
<text transform="translate(407.1,604.2) scale(0.95,1)" font-size="12.5" >d</text>
<text transform="translate(451.5,602.6) scale(0.95,1)" font-size="12.5" >b</text>
<text transform="translate(465.8,579.2) scale(0.95,1)" font-size="12.5" >b</text>
<text transform="translate(476.4,635.1) scale(0.95,1)" font-size="12.5" >c</text>
<text transform="translate(490.4,606.9) scale(0.95,1)" font-size="12.5" >c</text>
<text transform="translate(536.8,437.4) scale(0.95,1)" font-size="12.5" >a</text>
<text transform="translate(549.8,545.8) scale(0.95,1)" font-size="12.5" >a</text>
<text transform="translate(561.3,584.4) scale(0.95,1)" font-size="12.5" >a</text>
<text transform="translate(576.7,569.1) scale(0.95,1)" font-size="12.5" >a</text>
<rect x="259.2" y="431.1" width="27" height="10.2" fill="url(#ctlc)" stroke="#000" stroke-width="0.9"/>
<text transform="translate(290.4,440.4) scale(0.95,1)" font-size="12.7" text-anchor="start" style="stroke-width:0.28px">Control/M</text>
<rect x="259.2" y="448" width="27" height="10.2" fill="url(#chsc)" stroke="#000" stroke-width="0.9"/>
<text transform="translate(290.4,457.3) scale(0.95,1)" font-size="12.7" text-anchor="start" style="stroke-width:0.28px">CHS/M</text>
<rect x="259.2" y="464.9" width="27" height="10.2" fill="url(#chssc)" stroke="#000" stroke-width="0.9"/>
<text transform="translate(290.4,474.2) scale(0.95,1)" font-size="12.7" text-anchor="start" style="stroke-width:0.28px">CHSS/M</text>
<rect x="259.2" y="481.8" width="27" height="10.2" fill="url(#snc)" stroke="#000" stroke-width="0.9"/>
<text transform="translate(290.4,491.1) scale(0.95,1)" font-size="12.7" text-anchor="start" style="stroke-width:0.28px">CHSSN/M</text>
<rect x="247.05" y="425.1" width="349.65" height="290.6" fill="none" stroke="#000" stroke-width="1.35"/>
<text transform="translate(238.45,719.5) scale(0.87,1)" font-size="10.7" text-anchor="end" >0</text>
<text transform="translate(238.45,649.44) scale(0.87,1)" font-size="10.7" text-anchor="end" >20</text>
<text transform="translate(238.45,579.38) scale(0.87,1)" font-size="10.7" text-anchor="end" >40</text>
<text transform="translate(238.45,509.32) scale(0.87,1)" font-size="10.7" text-anchor="end" >60</text>
<text transform="translate(238.45,439.26) scale(0.87,1)" font-size="10.7" text-anchor="end" >80</text>
<text transform="translate(303,733.8) scale(0.87,1)" font-size="10.7" >3</text>
<text transform="translate(387,733.8) scale(0.87,1)" font-size="10.7" >6</text>
<text transform="translate(471,733.8) scale(0.87,1)" font-size="10.7" >9</text>
<text transform="translate(555,733.8) scale(0.87,1)" font-size="10.7" >12</text>
<path d="M240.85 715.7H247.05M240.85 645.64H247.05M240.85 575.58H247.05M240.85 505.52H247.05M240.85 435.46H247.05M303 715.7V720.9M387 715.7V720.9M471 715.7V720.9M555 715.7V720.9" stroke="#000" stroke-width="1" fill="none"/>
<text transform="translate(421.7,755.4) scale(0.933,1)" font-size="13" style="stroke-width:0.7px">Storage (Days)</text>
<text transform="translate(219,579.5) rotate(-90) scale(1.088,1.0)" font-size="12.5" font-weight="bold">Veil opening (%)</text>
<text transform="translate(423.4,786) scale(1,1)" font-family="Liberation Serif" font-size="25.5" style="stroke-width:0.35px">c</text>
</svg>
</body></html>
